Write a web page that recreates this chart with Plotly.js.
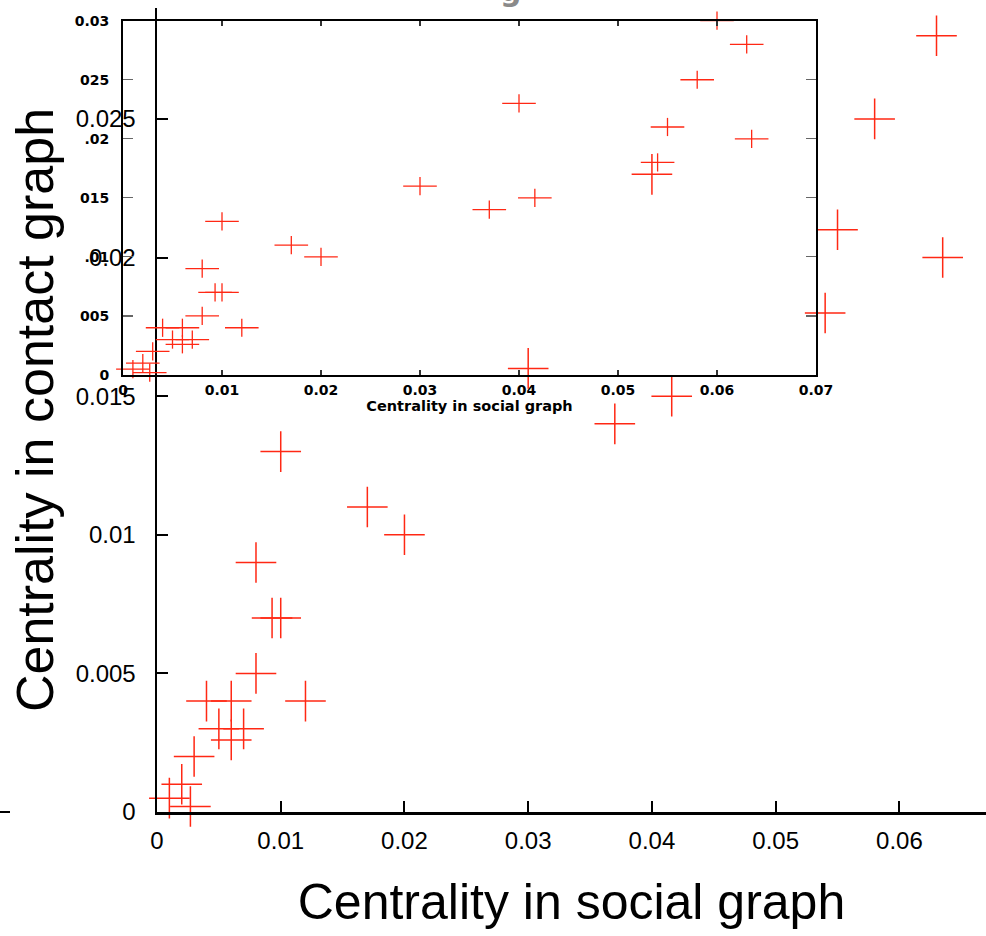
<!DOCTYPE html>
<html>
<head>
<meta charset="utf-8">
<script src="https://cdn.plot.ly/plotly-3.0.1.min.js"></script>
<style>
  html, body { margin: 0; padding: 0; background: #fff; }
  #chart { width: 986px; height: 936px; }
</style>
</head>
<body>
<div id="chart"></div>
<script>
// Data (same points in main plot and inset)
const socialCentrality = [0.001, 0.002, 0.0027, 0.003, 0.004, 0.006, 0.005, 0.006, 0.007, 0.008,
                          0.008, 0.0093, 0.010, 0.012, 0.010, 0.017, 0.020, 0.030, 0.037, 0.0416,
                          0.040, 0.054, 0.055, 0.058, 0.0635, 0.063, 0.060];
const contactCentrality = [0.0005, 0.001, 0.0002, 0.002, 0.004, 0.004, 0.003, 0.0026, 0.003, 0.005,
                           0.009, 0.007, 0.007, 0.004, 0.013, 0.011, 0.010, 0.016, 0.014, 0.015,
                           0.023, 0.018, 0.021, 0.025, 0.020, 0.028, 0.030];

const insetXTickVals = [0, 0.01, 0.02, 0.03, 0.04, 0.05, 0.06, 0.07];
const insetXTickText = ["0", "0.01", "0.02", "0.03", "0.04", "0.05", "0.06", "0.07"];
const insetYTickVals = [0, 0.005, 0.01, 0.015, 0.02, 0.025, 0.03];
const insetYTickText = ["0", "005", ".01", "015", ".02", "025", "0.03"];

const mainTitleX = "Centrality in social graph";
const mainTitleY = "Centrality in contact graph";
const insetTitleX = "Centrality in social graph";

const red = "rgb(255,40,20)";

const traces = [
  { // main plot crosses
    x: socialCentrality, y: contactCentrality, xaxis: "x", yaxis: "y",
    type: "scatter", mode: "markers", cliponaxis: false, hoverinfo: "skip",
    marker: { symbol: "cross-thin", size: 29, line: { color: red, width: 1.5 } }
  },
  { // inset crosses: horizontal arms
    x: socialCentrality, y: contactCentrality, xaxis: "x2", yaxis: "y2",
    type: "scatter", mode: "markers", cliponaxis: false, hoverinfo: "skip",
    marker: { symbol: "line-ew", size: 24, line: { color: red, width: 1.3 } }
  },
  { // inset crosses: vertical arms
    x: socialCentrality, y: contactCentrality, xaxis: "x2", yaxis: "y2",
    type: "scatter", mode: "markers", cliponaxis: false, hoverinfo: "skip",
    marker: { symbol: "line-ns", size: 13, line: { color: red, width: 1.3 } }
  }
];

const mainFont = { family: "Liberation Sans, Arial, Helvetica, sans-serif", size: 24, color: "#000" };
const insetFont = { family: "DejaVu Sans, Arial Black, sans-serif", size: 14, color: "#000", weight: "bold" };

const L = 100, T = 8, B = 124, W = 986, H = 936;
const pw = W - L, ph = H - T - B;
const px = v => (v - L) / pw;           // pixel x -> paper
const py = v => (H - B - v) / ph;       // pixel y -> paper

const layout = {
  width: W, height: H,
  margin: { l: L, r: 0, t: T, b: B, pad: 0 },
  paper_bgcolor: "#fff", plot_bgcolor: "rgba(0,0,0,0)",
  showlegend: false,
  xaxis: {
    domain: [px(157), 1], range: [0, 0.067], anchor: "y",
    dtick: 0.01, tick0: 0, ticks: "inside", ticklen: 11, tickwidth: 2, tickcolor: "#000",
    showline: true, linewidth: 2.5, linecolor: "#000", showgrid: false, zeroline: false,
    tickfont: mainFont, ticklabelstandoff: 6, automargin: false,
    title: { text: mainTitleX, font: { family: mainFont.family, size: 50, color: "#000" }, standoff: 31 }
  },
  yaxis: {
    domain: [0, 1], range: [0, 0.029], anchor: "x",
    dtick: 0.005, tick0: 0, ticks: "inside", ticklen: 11, tickwidth: 2, tickcolor: "#000",
    showline: true, linewidth: 2.5, linecolor: "#000", showgrid: false, zeroline: false,
    tickfont: mainFont, ticklabelstandoff: 14, automargin: false,
    title: { text: mainTitleY, font: { family: mainFont.family, size: 52, color: "#000" }, standoff: 6 }
  },
  xaxis2: {
    domain: [px(123), px(816)], range: [0, 0.07], anchor: "y2",
    tickvals: insetXTickVals, ticktext: insetXTickText,
    ticks: "inside", ticklen: 5, tickwidth: 1.2, tickcolor: "#333",
    showline: true, mirror: "ticks", linewidth: 2, linecolor: "#000",
    showgrid: false, zeroline: false, tickfont: insetFont, ticklabelstandoff: 1, automargin: false,
    title: { text: insetTitleX, font: { family: insetFont.family, size: 14.5, color: "#000", weight: "bold" }, standoff: 1 }
  },
  yaxis2: {
    domain: [py(375), py(20.7)], range: [0, 0.03], anchor: "x2",
    tickvals: insetYTickVals, ticktext: insetYTickText,
    ticks: "inside", ticklen: 10, tickwidth: 1.2, tickcolor: "#666",
    showline: true, mirror: "ticks", linewidth: 2, linecolor: "#000",
    showgrid: false, zeroline: false, tickfont: insetFont, ticklabelstandoff: 9, automargin: false
  },
  shapes: [
    { type: "line", xref: "paper", yref: "paper", x0: px(0), x1: px(10), y0: 0, y1: 0,
      line: { color: "#000", width: 2 } }
  ],
  annotations: [
    { text: "g", xref: "paper", yref: "paper", x: px(510), y: py(-10), xanchor: "center", yanchor: "middle",
      showarrow: false, font: { family: "DejaVu Sans, Arial, sans-serif", size: 30, color: "#8a8a8a", weight: "bold" } }
  ]
};

Plotly.newPlot("chart", traces, layout, { staticPlot: true, displayModeBar: false });
</script>
</body>
</html>
